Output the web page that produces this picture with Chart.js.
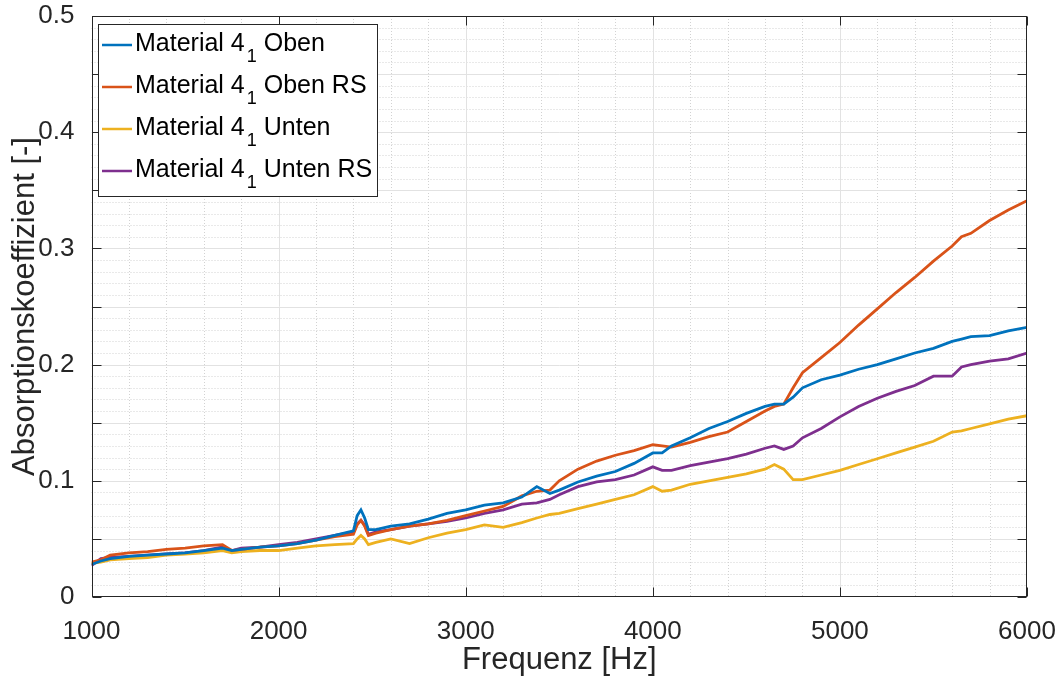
<!DOCTYPE html>
<html>
<head>
<meta charset="utf-8">
<script src="https://cdn.jsdelivr.net/npm/chart.js@4"></script>
<style>
  html, body { margin: 0; padding: 0; background: #fff; }
  #wrap { width: 1063px; height: 682px; }
</style>
</head>
<body>
<div id="wrap"><canvas id="absChart" width="1063" height="682"></canvas></div>
<script>
// ========== Data ==========
const freq = [1000,1050,1100,1200,1300,1400,1500,1600,1700,1750,1800,1900,2000,2100,2200,2300,2400,2420,2440,2460,2480,2520,
  2600,2700,2800,2900,3000,3100,3200,3300,3380,3450,3500,3600,3700,3800,3900,4000,4050,4100,4200,4300,
  4400,4500,4600,4650,4700,4750,4800,4900,5000,5100,5200,5300,5400,5500,5600,5650,5700,5800,5900,6000];

const obenVals = [0.028,0.031,0.033,0.035,0.036,0.037,0.038,0.040,0.042,0.040,0.041,0.043,0.044,0.046,0.049,0.053,0.057,0.070,0.075,0.068,0.058,0.058,
  0.061,0.063,0.067,0.072,0.075,0.079,0.081,0.086,0.095,0.089,0.092,0.099,0.104,0.108,0.115,0.124,0.124,0.130,0.137,0.145,
  0.151,0.158,0.164,0.166,0.166,0.172,0.180,0.187,0.191,0.196,0.200,0.205,0.210,0.214,0.220,0.222,0.224,0.225,0.229,0.232];

const obenRsVals = [0.030,0.032,0.036,0.038,0.039,0.041,0.042,0.044,0.045,0.040,0.041,0.043,0.044,0.046,0.049,0.052,0.054,0.062,0.066,0.061,0.053,0.055,
  0.058,0.061,0.063,0.066,0.070,0.074,0.078,0.087,0.091,0.092,0.100,0.110,0.117,0.122,0.126,0.131,0.130,0.129,0.133,0.138,
  0.142,0.151,0.160,0.164,0.166,0.180,0.193,0.206,0.219,0.234,0.248,0.262,0.275,0.289,0.302,0.310,0.313,0.324,0.333,0.341];

const untenVals = [0.029,0.030,0.032,0.033,0.034,0.036,0.037,0.038,0.040,0.038,0.039,0.040,0.040,0.042,0.044,0.045,0.046,0.050,0.053,0.050,0.045,0.047,
  0.050,0.046,0.051,0.055,0.058,0.062,0.060,0.064,0.068,0.071,0.072,0.076,0.080,0.084,0.088,0.095,0.091,0.092,0.097,0.100,
  0.103,0.106,0.110,0.114,0.110,0.101,0.101,0.105,0.109,0.114,0.119,0.124,0.129,0.134,0.142,0.143,0.145,0.149,0.153,0.156];

const untenRsVals = [0.027,0.033,0.034,0.035,0.036,0.037,0.038,0.040,0.043,0.040,0.042,0.043,0.045,0.047,0.050,0.053,0.056,0.063,0.066,0.062,0.054,0.056,
  0.058,0.061,0.063,0.065,0.068,0.072,0.075,0.080,0.081,0.084,0.088,0.095,0.099,0.101,0.105,0.112,0.109,0.109,0.113,0.116,
  0.119,0.123,0.128,0.130,0.127,0.130,0.137,0.145,0.155,0.164,0.171,0.177,0.182,0.190,0.190,0.198,0.200,0.203,0.205,0.210];

const seriesNames = ['Oben', 'Oben RS', 'Unten', 'Unten RS'];
const seriesColors = ['#0072BD', '#D95319', '#EDB120', '#7E2F8E'];
const yTickLabels = [0, 0.1, 0.2, 0.3, 0.4, 0.5];

const FONT = '"Liberation Sans", Arial, sans-serif';
const AXIS_COLOR = '#262626';

function toPoints(vals) {
    return vals.map((v, i) => ({ x: freq[i], y: v }));
}

// ========== Grid, box, ticks and legend ==========
const matlabFrame = {
    id: 'matlabFrame',
    beforeDatasetsDraw(chart) {
        const { ctx, chartArea: a, scales: { x, y } } = chart;
        const px = v => Math.round(x.getPixelForValue(v)) + 0.5;
        const py = v => Math.round(y.getPixelForValue(v)) + 0.5;
        ctx.save();
        ctx.lineWidth = 1;
        // minor grid (dotted)
        ctx.strokeStyle = '#d2d2d2';
        ctx.setLineDash([1, 2]);
        ctx.beginPath();
        for (let f = 1000; f <= 6000; f += 200) {
            if (f % 1000 === 0) continue;
            ctx.moveTo(px(f), a.top); ctx.lineTo(px(f), a.bottom);
        }
        for (let k = 0; k <= 50; k++) {
            if (k % 5 === 0) continue;
            ctx.moveTo(a.left, py(k / 100)); ctx.lineTo(a.right, py(k / 100));
        }
        ctx.stroke();
        // major grid
        ctx.setLineDash([]);
        ctx.strokeStyle = '#e2e2e2';
        ctx.beginPath();
        for (let f = 2000; f < 6000; f += 1000) {
            ctx.moveTo(px(f), a.top); ctx.lineTo(px(f), a.bottom);
        }
        for (let k = 1; k < 10; k++) {
            ctx.moveTo(a.left, py(k * 0.05)); ctx.lineTo(a.right, py(k * 0.05));
        }
        ctx.stroke();
        ctx.restore();
    },
    afterDatasetsDraw(chart) {
        const { ctx, chartArea: a, scales: { x, y } } = chart;
        const px = v => Math.round(x.getPixelForValue(v)) + 0.5;
        const py = v => Math.round(y.getPixelForValue(v)) + 0.5;
        const L = Math.round(a.left) + 0.5, R = Math.round(a.right) - 0.5;
        const T = Math.round(a.top) + 0.5, B = Math.round(a.bottom) - 0.5;
        ctx.save();
        ctx.strokeStyle = AXIS_COLOR;
        ctx.lineWidth = 1;
        ctx.strokeRect(L, T, R - L, B - T);
        ctx.beginPath();
        const tl = 9;
        for (let f = 1000; f <= 6000; f += 1000) {
            ctx.moveTo(px(f), B); ctx.lineTo(px(f), B - tl);
            ctx.moveTo(px(f), T); ctx.lineTo(px(f), T + tl);
        }
        for (let k = 0; k <= 10; k++) {
            ctx.moveTo(L, py(k * 0.05)); ctx.lineTo(L + tl, py(k * 0.05));
            ctx.moveTo(R, py(k * 0.05)); ctx.lineTo(R - tl, py(k * 0.05));
        }
        ctx.stroke();
        ctx.restore();
    },
    afterDraw(chart) {
        const { ctx } = chart;
        const box = { x: 98.5, y: 24.5, w: 279, h: 172 };
        const rowY = [44, 86, 128, 170];
        ctx.save();
        ctx.fillStyle = '#fff';
        ctx.fillRect(box.x, box.y, box.w, box.h);
        ctx.strokeStyle = AXIS_COLOR;
        ctx.lineWidth = 1;
        ctx.strokeRect(box.x, box.y, box.w, box.h);
        chart.data.datasets.forEach((ds, i) => {
            const yy = rowY[i];
            ctx.strokeStyle = ds.borderColor;
            ctx.lineWidth = 2.5;
            ctx.beginPath();
            ctx.moveTo(102, yy + 1); ctx.lineTo(132, yy + 1);
            ctx.stroke();
            ctx.fillStyle = '#000';
            ctx.textBaseline = 'middle';
            ctx.font = '25px ' + FONT;
            let tx = 135;
            const head = 'Material 4';
            ctx.fillText(head, tx, yy);
            tx += ctx.measureText(head).width + 2;
            ctx.font = '18px ' + FONT;
            ctx.fillText('1', tx, yy + 13);
            tx += ctx.measureText('1').width;
            ctx.font = '25px ' + FONT;
            ctx.fillText(' ' + seriesNames[i], tx, yy);
        });
        ctx.restore();
    }
};

// ========== Absorption chart ==========
const absCtx = document.getElementById('absChart');
new Chart(absCtx, {
    type: 'line',
    data: {
        datasets: seriesNames.map((name, i) => ({
            label: 'Material 4_1 ' + name,
            data: toPoints([obenVals, obenRsVals, untenVals, untenRsVals][i]),
            borderColor: seriesColors[i],
            backgroundColor: seriesColors[i],
            borderWidth: 2.8,
            pointRadius: 0,
            tension: 0,
            fill: false,
        }))
    },
    options: {
        responsive: false,
        animation: false,
        layout: { padding: { left: 0, right: 36, top: 16, bottom: 0 } },
        plugins: {
            legend: { display: false },
            tooltip: { enabled: false }
        },
        scales: {
            x: {
                type: 'linear',
                min: 1000,
                max: 6000,
                afterFit: s => { s.height = 85; s.paddingLeft = 0; s.paddingRight = 0; },
                grid: { display: false },
                border: { display: false },
                ticks: {
                    stepSize: 1000,
                    padding: 11,
                    color: AXIS_COLOR,
                    font: { family: FONT, size: 26 },
                    maxRotation: 0,
                    callback: v => String(v)
                },
                title: {
                    display: true,
                    text: 'Frequenz [Hz]',
                    color: AXIS_COLOR,
                    font: { family: FONT, size: 31 },
                    padding: { top: 0, bottom: 3 }
                }
            },
            y: {
                min: 0,
                max: 0.5,
                afterFit: s => { s.width = 91.5; s.paddingTop = 0; s.paddingBottom = 0; },
                afterBuildTicks: s => { s.ticks = yTickLabels.map(v => ({ value: v })); },
                grid: { display: false },
                border: { display: false },
                ticks: {
                    padding: 9,
                    color: AXIS_COLOR,
                    font: { family: FONT, size: 26 },
                    callback: v => String(Math.round(v * 10) / 10)
                },
                title: {
                    display: true,
                    text: 'Absorptionskoeffizient [-]',
                    color: AXIS_COLOR,
                    font: { family: FONT, size: 31 },
                    padding: { top: 7, bottom: 0 }
                }
            }
        }
    },
    plugins: [matlabFrame]
});
</script>
</body>
</html>
